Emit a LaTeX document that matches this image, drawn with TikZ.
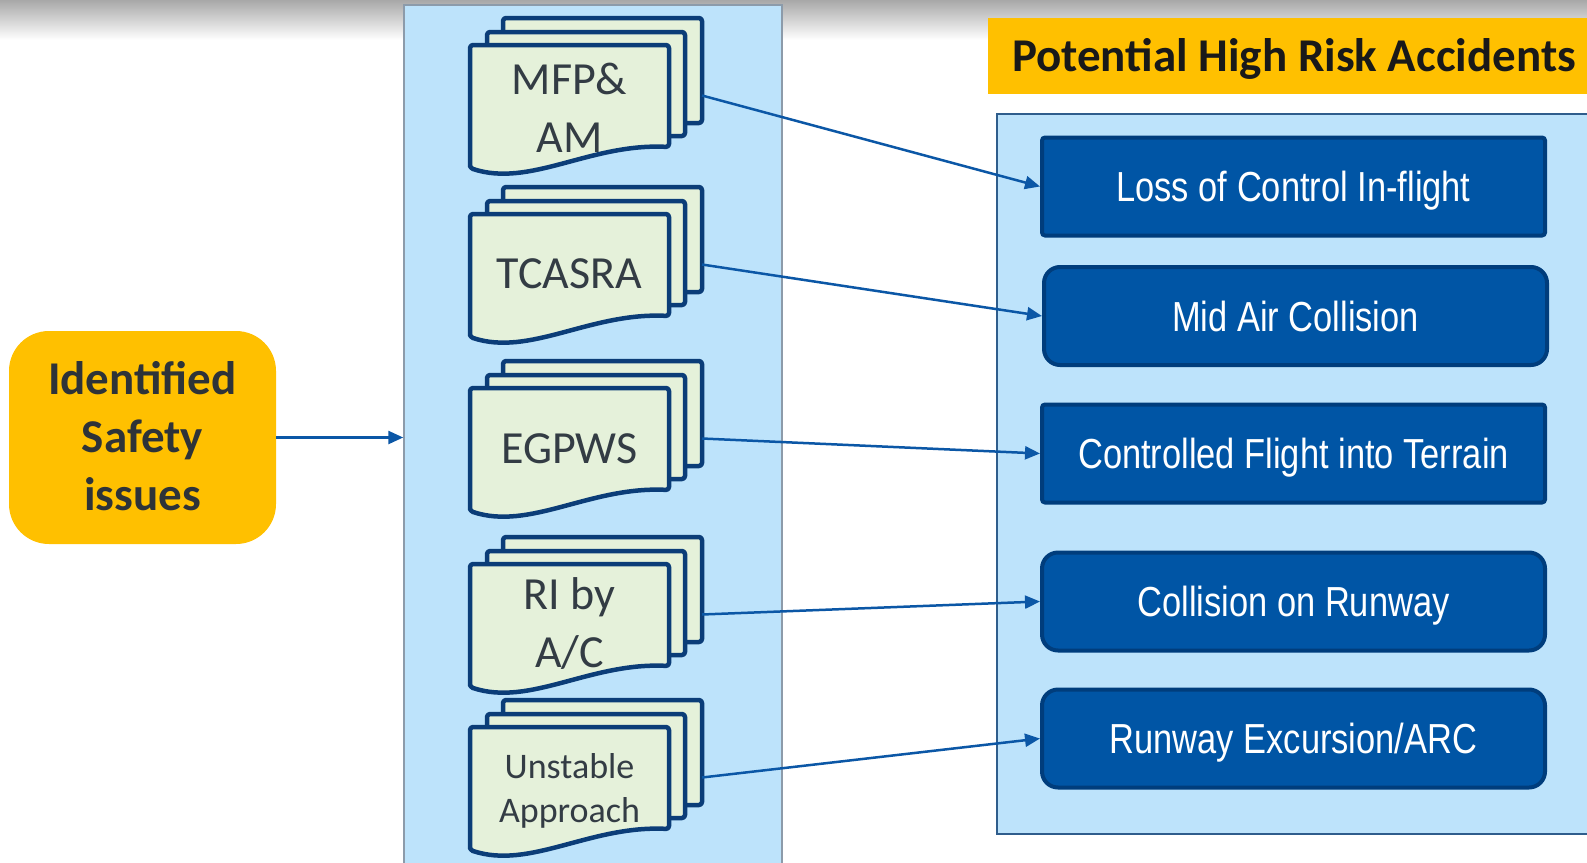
\documentclass[tikz,border=0pt]{standalone}
\usepackage{fontspec}
\setmainfont{Carlito}
\newfontfamily\narrowfont[FakeStretch=0.82]{Liberation Sans}
\usetikzlibrary{arrows.meta}
\definecolor{panelblue}{HTML}{BDE3FB}
\definecolor{panelgray}{HTML}{8C9BAA}
\definecolor{paneledge}{HTML}{2F5D8C}
\definecolor{orangebox}{HTML}{FFC000}
\definecolor{darktext}{HTML}{2E3338}
\definecolor{docfill}{HTML}{E5F1DA}
\definecolor{docedge}{HTML}{0B3D78}
\definecolor{boxfill}{HTML}{0055A5}
\definecolor{boxedge}{HTML}{003D7C}
\definecolor{arrowblue}{HTML}{0B57A6}
\definecolor{doctextc}{HTML}{333C44}
\definecolor{topgray}{HTML}{A8A8A8}
\tikzset{
  page/.style={fill=docfill, draw=docedge, line width=4.5pt, line join=round, rounded corners=3pt},
  doctext/.style={text=doctextc, align=center, anchor=base, inner sep=0pt, font=\fontsize{46}{58}\selectfont},
  risk/.style={draw=boxedge, fill=boxfill, line width=4pt, minimum width=503pt, minimum height=98pt,
    inner sep=0pt, text=white, text height=30pt, text depth=0pt, font=\narrowfont\fontsize{42}{50}\selectfont},
  conn/.style={draw=arrowblue, line width=2.5pt, -{Triangle[length=15pt,width=13pt]}},
}
\newcommand\docgroup[2]{%
  \draw[page] (503,#1) rectangle (702,#1+105);
  \draw[page] (487,#1+14) rectangle (685,#1+118);
  \draw[page] (470,#1+150) -- (470,#1+27) -- (669,#1+27) -- (669,#1+129)
     .. controls (590,#1+125) and (530,#1+170) .. (470,#1+150) -- cycle;
  \coordinate (#2) at (702,#1+77.5);
}
\begin{document}
\begin{tikzpicture}[x=1pt,y=-1pt]
\clip (0,0) rectangle (1587,862);
\fill[white] (0,0) rectangle (1587,862);
\shade[top color=topgray, bottom color=white] (0,0) rectangle (1587,40);

% middle panel
\node[draw=panelgray, fill=panelblue, line width=1.5pt, minimum width=378pt, minimum height=870pt, inner sep=0pt] (mid) at (593,440) {};
% right panel
\node[draw=paneledge, fill=panelblue, line width=1.5pt, minimum width=603pt, minimum height=720pt, inner sep=0pt] (acc) at (1298.5,474) {};
% title
\node[fill=orangebox, minimum width=612pt, minimum height=76pt, inner sep=0pt, text=black!90,
  text height=30pt, text depth=0pt, font=\bfseries\fontsize{47}{56}\selectfont] (title) at (1294,56) {Potential High Risk Accidents};

% left box
\node[fill=orangebox, rounded corners=40pt, minimum width=267pt, minimum height=213pt, inner sep=0pt] (isi) at (142.5,437.5) {};
\node[text=darktext, align=center, anchor=base, inner sep=0pt, font=\bfseries\fontsize{47}{58}\selectfont] (isitext) at (142.5,510) {Identified\\Safety\\issues};

% documents
\docgroup{18}{d1}
\docgroup{187}{d2}
\docgroup{361}{d3}
\docgroup{537}{d4}
\docgroup{700}{d5}
\node[doctext] (t1) at (569.5,152) {MFP\&\\AM};
\node[doctext] (t2) at (569.5,288) {TCASRA};
\node[doctext] (t3) at (569.5,463) {EGPWS};
\node[doctext] (t4) at (569.5,667) {RI by\\A/C};
\node[doctext, font=\fontsize{36}{44}\selectfont] (t5) at (569.5,822) {Unstable\\Approach};

% risk boxes
\node[risk, rounded corners=3pt] (r1) at (1293.5,186.5) {Loss of Control In-flight};
\node[risk, rounded corners=16pt] (r2) at (1295.5,316) {Mid Air Collision};
\node[risk, rounded corners=3pt] (r3) at (1293.5,453.5) {Controlled Flight into Terrain};
\node[risk, rounded corners=16pt] (r4) at (1293.5,601.5) {Collision on Runway};
\node[risk, rounded corners=16pt] (r5) at (1293.5,738.5) {Runway Excursion/ARC};

% connectors
\draw[conn] (isi.east) -- (isi.east -| mid.west);
\draw[conn] (d1) -- (r1.west);
\draw[conn] (d2) -- (r2.west);
\draw[conn] (d3) -- (r3.west);
\draw[conn] (d4) -- (r4.west);
\draw[conn] (d5) -- (r5.west);
\end{tikzpicture}
\end{document}
